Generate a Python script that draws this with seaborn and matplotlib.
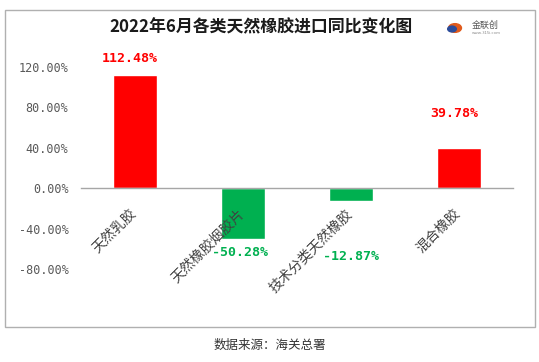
import matplotlib
matplotlib.use("Agg")
import matplotlib.pyplot as plt
import matplotlib.patches as mpatches
import matplotlib.transforms as mtransforms
import seaborn as sns
import pandas as pd

# 数据
categorias = ["天然乳胶", "天然橡胶烟胶片", "技术分类天然橡胶", "混合橡胶"]
valores = [112.48, -50.28, -12.87, 39.78]
etiquetas = ["112.48%", "-50.28%", "-12.87%", "39.78%"]
y_ticks = [-80, -40, 0, 40, 80, 120]

rojo = "#FF0000"
verde = "#00B050"
colores = [rojo if v >= 0 else verde for v in valores]

sns.set_theme(style="white")
plt.rcParams["font.family"] = ["Noto Sans CJK SC", "DejaVu Sans"]

data = pd.DataFrame({"cat": categorias, "val": valores})

fig = plt.figure(figsize=(5.39, 3.62), dpi=100)
ax = fig.add_axes([81 / 539, 1 - 269 / 362, 432 / 539, 202 / 362])

sns.barplot(data=data, x="cat", y="val", hue="cat", palette=colores,
            legend=False, width=0.41, saturation=1, ax=ax)

ax.set_ylim(-80, 120)
ax.set_xlim(-0.5, 3.5)
ax.set_yticks(y_ticks)
ax.set_yticklabels([f"{t:.2f}%" for t in y_ticks], family="DejaVu Sans Mono",
                   fontsize=8.5, color="#595959")
ax.tick_params(axis="y", length=0, pad=9)
ax.set_xlabel("")
ax.set_ylabel("")
ax.set_axisbelow(False)

for s in ["top", "right", "left"]:
    ax.spines[s].set_visible(False)
ax.spines["bottom"].set_position(("data", 0))
ax.spines["bottom"].set_color("#a6a6a6")
ax.spines["bottom"].set_linewidth(1)
ax.tick_params(axis="x", length=0, pad=13)
desplaza_x = mtransforms.ScaledTranslation(-6 / 100, 0, fig.dpi_scale_trans)
for lab in ax.get_xticklabels():
    lab.set_rotation(45)
    lab.set_ha("right")
    lab.set_rotation_mode("anchor")
    lab.set_fontsize(10)
    lab.set_color("#404040")
    lab.set_transform(lab.get_transform() + desplaza_x)

# etiquetas de datos (desplazamiento en puntos respecto al extremo de la barra)
desplaz = [(-3.6, 11.9), (-1.8, -9.5), (0, -39.5), (-3.2, 24.5)]
for i, (v, t) in enumerate(zip(valores, etiquetas)):
    ax.annotate(t, xy=(i, v), xytext=desplaz[i], textcoords="offset points",
                ha="center", va="center",
                fontsize=9.5, fontweight="bold", family="DejaVu Sans Mono",
                color=colores[i], annotation_clip=False, zorder=5)

# marco exterior
fig.patches.append(mpatches.Rectangle((5 / 539, 1 - 327 / 362), 530 / 539, 317 / 362,
                                      transform=fig.transFigure, fill=False,
                                      edgecolor="#b0b0b0", linewidth=1))

fig.text(261 / 539, 1 - 27 / 362, "2022年6月各类天然橡胶进口同比变化图",
         ha="center", va="center", fontsize=12.2, fontweight="bold", color="#1a1a1a")

# logo
fig.patches.append(mpatches.Circle((455 / 539, 1 - 28 / 362), 0.012,
                                   transform=fig.transFigure, color="#e05a1c"))
fig.patches.append(mpatches.Circle((452 / 539, 1 - 29 / 362), 0.008,
                                   transform=fig.transFigure, color="#2b4c9b"))
fig.text(472 / 539, 1 - 25 / 362, "金联创", ha="left", va="center",
         fontsize=6.5, color="#555555")
fig.text(472 / 539, 1 - 33 / 362, "www.315i.com", ha="left", va="center",
         fontsize=3, color="#888888")

fig.text(270 / 539, 1 - 345 / 362, "数据来源：海关总署", ha="center", va="center",
         fontsize=9, color="#333333")

fig.savefig("out.png", dpi=100)
